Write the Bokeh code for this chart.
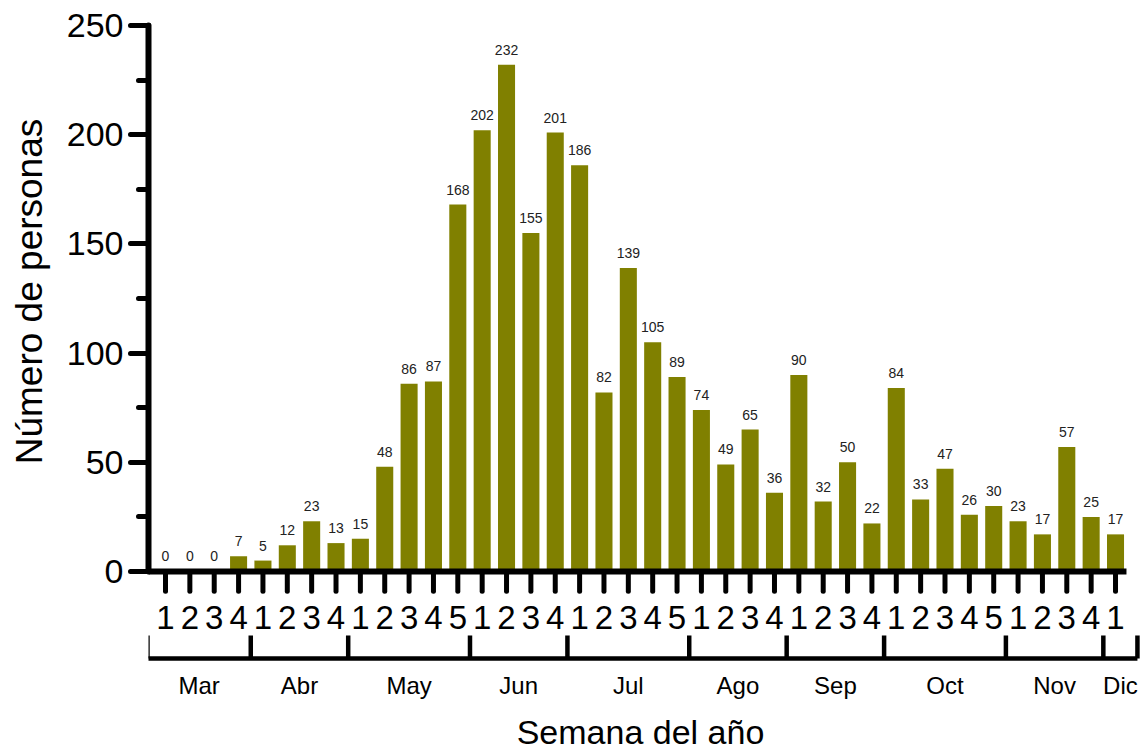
import math
from bokeh.plotting import figure
from bokeh.layouts import row
from bokeh.models import ColumnDataSource, Range1d, SingleIntervalTicker
from bokeh.core.properties import value
from bokeh.embed import file_html
from bokeh.resources import INLINE

# ---- data ----
months = ["Mar", "Abr", "May", "Jun", "Jul", "Ago", "Sep", "Oct", "Nov", "Dic"]
weeks_per_month = [4, 4, 5, 4, 5, 4, 4, 5, 4, 1]
personas = [0, 0, 0, 7,
            5, 12, 23, 13,
            15, 48, 86, 87, 168,
            202, 232, 155, 201,
            186, 82, 139, 105, 89,
            74, 49, 65, 36,
            90, 32, 50, 22,
            84, 33, 47, 26, 30,
            23, 17, 57, 25,
            17]
y_title = "Número de personas"
x_title = "Semana del año"

# ---- derived ----
week_labels = []
for n in weeks_per_month:
    week_labels += [str(k + 1) for k in range(n)]
idx = list(range(len(personas)))
N = len(personas)

FONT = value("Liberation Sans")
BAR = "#808000"


def style(f):
    f.outline_line_color = None
    f.grid.visible = False
    f.background_fill_color = "white"
    f.border_fill_color = "white"
    return f


# ---------- left strip: y title ----------
t = style(figure(width=60, height=752, output_backend="svg", toolbar_location=None,
                 x_axis_location=None, y_axis_location=None, min_border=0,
                 x_range=Range1d(0, 60), y_range=Range1d(752, 0)))
t.text(x=[29], y=[291], text=[y_title], angle=math.pi / 2, text_align="center",
       text_baseline="alphabetic", text_font=FONT, text_font_size="37px", text_color="black")

# ---------- main chart ----------
p = style(figure(width=1084, height=752, output_backend="svg", toolbar_location=None,
                 x_axis_location=None, min_border_left=88, min_border_right=0,
                 min_border_top=0, min_border_bottom=0,
                 x_range=Range1d(-0.698, 40.19), y_range=Range1d(-82.88, 261.45)))

ya = p.yaxis[0]
ya.ticker = SingleIntervalTicker(interval=50, num_minor_ticks=2)
ya.bounds = (0, 250)
ya.axis_line_width = 6
ya.axis_line_color = "black"
ya.axis_line_cap = "round"
ya.major_tick_line_width = 5
ya.major_tick_line_cap = "round"
ya.major_tick_out = 18
ya.major_tick_in = 0
ya.minor_tick_line_width = 5
ya.minor_tick_line_cap = "round"
ya.minor_tick_out = 10
ya.minor_tick_in = 0
ya.major_label_text_font = "Liberation Sans"
ya.major_label_text_font_size = "34px"
ya.major_label_text_color = "black"
ya.major_label_standoff = 7

src = ColumnDataSource(dict(x=idx, top=personas, lab=[str(v) for v in personas]))
p.vbar(x="x", top="top", width=0.7, bottom=0, source=src, fill_color=BAR, line_color=None)
p.text(x="x", y="top", text="lab", source=src, y_offset=-15, text_align="center",
       text_baseline="alphabetic", text_font=FONT, text_font_size="14px", text_color="#222222")

# x axis line, week ticks and labels
p.segment(x0=[-0.698], y0=[0], x1=[39.45], y1=[0], line_width=6, line_color="black")
p.segment(x0=idx, y0=[0] * N, x1=idx, y1=[-9.0] * N, line_width=5, line_color="black",
          line_cap="round")
p.text(x=idx, y=[-26.56] * N, text=week_labels, text_align="center", text_baseline="alphabetic",
       y_offset=-12, text_font=FONT, text_font_size="33px", text_color="black")

# month bracket
bounds = [-0.74]
acc = 0
for n in weeks_per_month[:-1]:
    acc += n
    bounds.append(acc - 0.5)
bounds.append(39.9)
y_br = -39.84
p.segment(x0=[bounds[0]], y0=[y_br], x1=[bounds[-1]], y1=[y_br], line_width=4.5, line_color="black")
p.segment(x0=bounds, y0=[y_br] * len(bounds), x1=bounds, y1=[-29.3] * len(bounds),
          line_width=4.5, line_color="black")
centers = [(bounds[k] + bounds[k + 1]) / 2 for k in range(len(months))]
p.text(x=centers, y=[-55.86] * len(months), text=months, text_align="center",
       text_baseline="alphabetic", y_offset=-8, text_font=FONT, text_font_size="24px",
       text_color="black")

# x title
p.text(x=[(N - 1) / 2], y=[-79.1], text=[x_title], text_align="center", text_baseline="alphabetic",
       y_offset=-12, text_font=FONT, text_font_size="34px", text_color="black")

layout = row(t, p, spacing=0)
open("out.html", "w").write(file_html(layout, INLINE))
